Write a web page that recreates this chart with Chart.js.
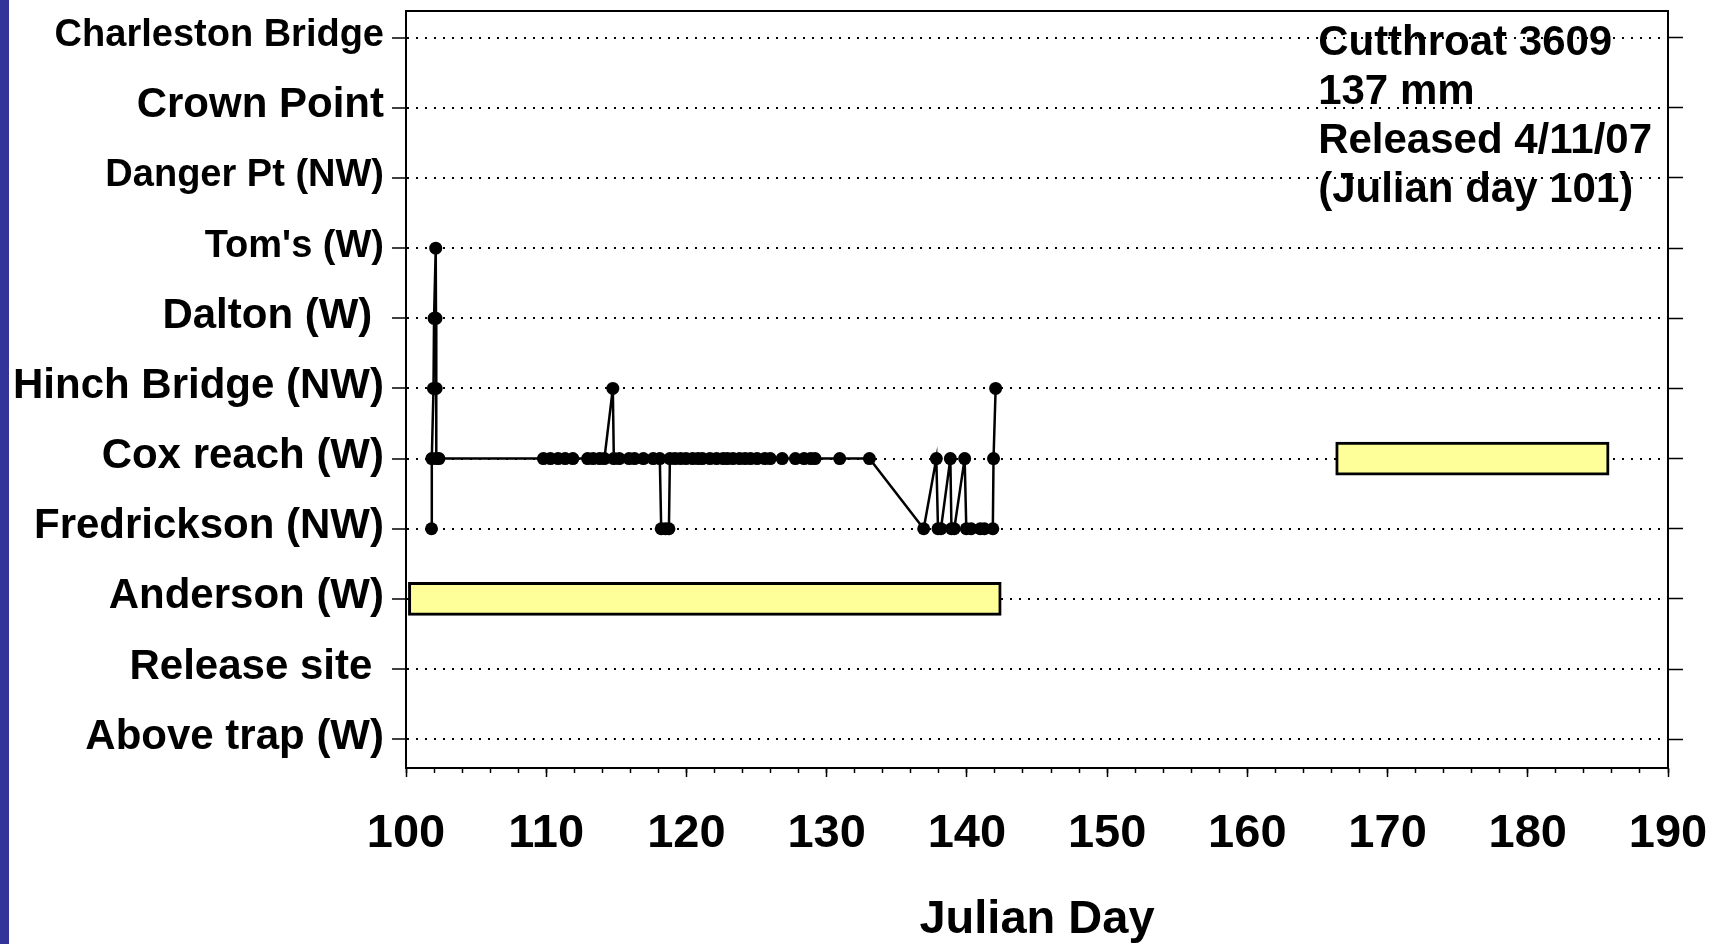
<!DOCTYPE html>
<html><head><meta charset="utf-8">
<script src="https://cdn.jsdelivr.net/npm/chart.js@4/dist/chart.umd.min.js"></script>
<style>
html,body{margin:0;padding:0;background:#fff;overflow:hidden;}
#wrap{position:relative;width:1716px;height:944px;}
#edge{position:absolute;left:0;top:0;width:9px;height:944px;background:#333399;}
canvas{position:absolute;left:0;top:0;}
</style></head><body>
<div id="wrap"><canvas id="c" width="1716" height="944"></canvas><div id="edge"></div></div>
<script>
// Site categories, index 0 = bottom of axis
const siteLabels = [
  "Above trap (W)", "Release site ", "Anderson (W)", "Fredrickson (NW)", "Cox reach (W)",
  "Hinch Bridge (NW)", "Dalton (W) ", "Tom's (W)", "Danger Pt (NW)", "Crown Point", "Charleston Bridge"
];
const smallLabelSites = [7, 8, 10];

// Detections of the fish: Julian day and site index
const lineDays = [
  101.82, 101.84, 101.96, 102.00, 102.12, 102.14, 102.15, 102.17, 102.35,
  109.80, 110.30, 110.85, 111.35, 111.90, 112.95, 113.34, 113.81, 114.15,
  114.75, 114.82, 115.21, 115.91, 116.30, 116.93, 117.63, 118.10,
  118.20, 118.50, 118.75, 118.82, 119.19, 119.58, 119.97, 120.44, 120.83,
  121.14, 121.68, 122.15, 122.62, 122.93, 123.32, 123.79, 124.18, 124.57,
  125.04, 125.59, 125.98, 126.83, 127.77, 128.39, 128.86, 129.17, 130.93, 133.05,
  136.92, 137.82, 137.94, 138.15, 138.82, 138.90, 139.10, 139.84, 139.96,
  140.30, 140.95, 141.25, 141.85, 141.90, 142.05
];
const lineSites = [
  3, 4, 5, 6, 7, 6, 5, 4, 4,
  4, 4, 4, 4, 4, 4, 4, 4, 4,
  5, 4, 4, 4, 4, 4, 4, 4,
  3, 3, 3, 4, 4, 4, 4, 4, 4,
  4, 4, 4, 4, 4, 4, 4, 4, 4,
  4, 4, 4, 4, 4, 4, 4, 4, 4, 4,
  3, 4, 3, 3, 4, 3, 3, 4, 3,
  3, 3, 3, 3, 4, 5
];

// Residence periods (floating bars)
const barSites = [2, 4];
const barStart = [100.17, 166.3];
const barEnd = [142.45, 185.8];

// Axis ranges
const xMin = 100, xMax = 190, xMajorStep = 10, xMinorStep = 2;
const yMin = -0.41, yMax = 10.38;

const annotationLines = ["Cutthroat 3609", "137 mm", "Released 4/11/07", "(Julian day 101)"];
const annotationDay = 165.05;

const FAM = '"Liberation Sans", Arial, Helvetica, sans-serif';

const lineData = lineDays.map((d, i) => ({x: d, y: lineSites[i]}));
const barData = barSites.map((s, i) => ({y: s, x: [barStart[i], barEnd[i]]}));
const siteTicks = (s) => { s.ticks = siteLabels.map((_, i) => ({value: i})); };
const noPad = (s) => { s.paddingTop = 0; s.paddingBottom = 0; s.paddingLeft = 0; s.paddingRight = 0; };

const annotationPlugin = {
  id: 'annot',
  afterDatasetsDraw(chart) {
    const ctx = chart.ctx;
    const x = chart.scales.x.getPixelForValue(annotationDay);
    const top = chart.chartArea.top;
    ctx.save();
    ctx.font = 'bold 42px ' + FAM;
    ctx.fillStyle = '#000';
    ctx.textAlign = 'left';
    ctx.textBaseline = 'alphabetic';
    annotationLines.forEach((t, i) => ctx.fillText(t, x, top + 44 + i * 49));
    ctx.restore();
  }
};

new Chart(document.getElementById('c'), {
  type: 'line',
  data: {
    datasets: [
      {
        type: 'line', data: lineData, xAxisID: 'x', yAxisID: 'y',
        borderColor: '#000', borderWidth: 2.5, tension: 0,
        pointRadius: 6.5, pointBackgroundColor: '#000', pointBorderWidth: 0,
        pointHoverRadius: 6.5, fill: false, order: 1
      },
      {
        type: 'bar', indexAxis: 'y', data: barData, xAxisID: 'x', yAxisID: 'y',
        backgroundColor: '#FFFF99', borderColor: '#000', borderWidth: 3,
        borderSkipped: false, barThickness: 33, order: 2
      }
    ]
  },
  options: {
    responsive: false, animation: false,
    layout: {padding: {left: 0, right: 33, top: 11, bottom: 0}},
    plugins: {legend: {display: false}, tooltip: {enabled: false}},
    scales: {
      x: {
        type: 'linear', position: 'bottom', min: xMin, max: xMax, weight: 1, offset: false,
        afterFit: (s) => { s.height = 176; noPad(s); },
        ticks: {stepSize: xMajorStep, color: '#000', padding: 29,
          font: {family: FAM, weight: 'bold', size: 47}},
        grid: {display: true, offset: false, drawOnChartArea: false, drawTicks: true, tickLength: 9,
          tickColor: '#000', tickWidth: 1.5, tickBorderDash: []},
        border: {display: true, color: '#000', width: 2},
        title: {display: true, text: 'Julian Day', color: '#000',
          font: {family: FAM, weight: 'bold', size: 47, lineHeight: 1}, padding: {top: 2, bottom: 0}}
      },
      xMinor: {
        type: 'linear', position: 'bottom', min: xMin, max: xMax, weight: 0, offset: false,
        afterFit: (s) => { s.height = 0; noPad(s); },
        ticks: {stepSize: xMinorStep, display: false},
        grid: {display: true, offset: false, drawOnChartArea: false, drawTicks: true, tickLength: 5,
          tickColor: '#000', tickWidth: 1.5, tickBorderDash: []},
        border: {display: false}
      },
      xTop: {
        type: 'linear', position: 'top', min: xMin, max: xMax, offset: false,
        afterFit: (s) => { s.height = 0; noPad(s); },
        ticks: {display: false},
        grid: {display: false},
        border: {display: true, color: '#000', width: 2}
      },
      y: {
        type: 'linear', position: 'left', min: yMin, max: yMax, offset: false,
        afterBuildTicks: siteTicks,
        afterFit: (s) => { s.width = 406; noPad(s); },
        ticks: {
          color: '#000', padding: 8, labelOffset: -2, autoSkip: false,
          callback: (v) => siteLabels[v] !== undefined ? siteLabels[v] : '',
          font: (c) => ({family: FAM, weight: 'bold',
            size: (c.tick && smallLabelSites.includes(c.tick.value)) ? 38 : 42})
        },
        grid: {display: true, offset: false, drawOnChartArea: true, drawTicks: true, color: '#000', lineWidth: 2,
          tickLength: 14, tickColor: '#000', tickWidth: 1.5, tickBorderDash: []},
        border: {display: true, color: '#000', width: 2, dash: [2, 7]}
      },
      yRight: {
        type: 'linear', position: 'right', min: yMin, max: yMax, offset: false,
        afterBuildTicks: siteTicks,
        afterFit: (s) => { s.width = 15; noPad(s); },
        ticks: {display: false},
        grid: {display: true, offset: false, drawOnChartArea: false, drawTicks: true, tickLength: 15,
          tickColor: '#000', tickWidth: 1.5, tickBorderDash: []},
        border: {display: true, color: '#000', width: 2}
      }
    }
  },
  plugins: [annotationPlugin]
});
</script>
</body></html>
